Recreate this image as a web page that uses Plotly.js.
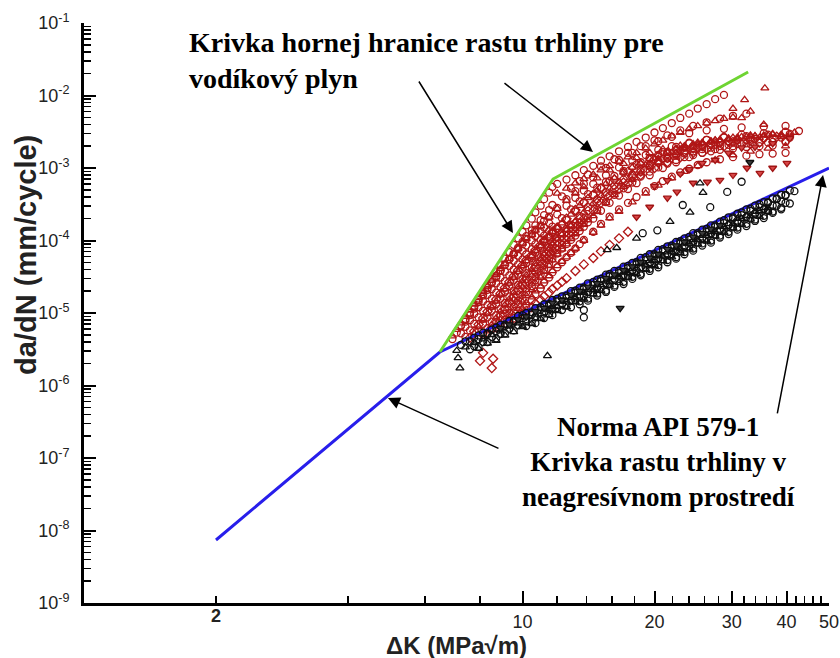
<!DOCTYPE html>
<html><head><meta charset="utf-8">
<script src="https://cdn.plot.ly/plotly-3.0.1.min.js"></script>
<style>html,body{margin:0;padding:0;background:#fff}#chart{width:840px;height:658px}</style>
</head><body><div id="chart"></div>
<script>
// ---------- reference curves ----------
const apiK = [2, 6.48, 50];
const apiR = [7.4e-9, 2.9e-6, 1.0e-3];
const h2K = [6.48, 11.74, 32.7];
const h2R = [2.9e-6, 7.05e-4, 0.0211];

// ---------- hydrogen tests (red) ----------
const ra_K = [6.92,7.08,7.24,7.41,7.59,7.76,7.94,8.13,8.32,8.51,8.71,8.91,9.12,9.33,9.55,9.77,10.0,10.2,10.5,10.7,11.0,11.2,11.5,11.7,12.0,12.6,13.2,13.8,14.5,15.1,15.8,16.6,17.4,18.2,19.1,20.0,20.9,21.9,22.9,24.0,25.1,26.3,27.5,28.8];
const ra_R = [4.37e-6,5.37e-6,6.76e-6,8.32e-6,1.02e-5,1.26e-5,1.58e-5,1.95e-5,2.40e-5,2.95e-5,3.72e-5,4.57e-5,5.62e-5,6.92e-5,8.71e-5,1.07e-4,1.32e-4,1.62e-4,2.00e-4,2.45e-4,3.02e-4,3.72e-4,4.57e-4,5.50e-4,6.03e-4,6.92e-4,7.94e-4,9.33e-4,1.07e-3,1.26e-3,1.45e-3,1.70e-3,1.95e-3,2.29e-3,2.63e-3,3.09e-3,3.55e-3,4.17e-3,4.90e-3,5.62e-3,6.61e-3,7.59e-3,8.91e-3,1.02e-2];
const rc_K = [7.24,7.41,7.59,7.76,7.94,8.13,8.32,8.51,8.71,8.91,9.12,9.33,9.55,9.77,10.0,10.2,10.5,10.7,11.0,11.2,11.5,12.0,12.6,13.2,13.8,14.5,15.5,16.6,17.8,19.1,20.4,21.9,24.0,26.3,28.8,32.4,36.3,40.7];
const rc_R = [5.25e-6,6.46e-6,7.94e-6,9.77e-6,1.20e-5,1.45e-5,1.78e-5,2.14e-5,2.57e-5,3.09e-5,3.72e-5,4.47e-5,5.25e-5,6.17e-5,7.24e-5,8.51e-5,1.00e-4,1.15e-4,1.32e-4,1.51e-4,1.74e-4,2.29e-4,3.02e-4,3.89e-4,4.90e-4,6.03e-4,7.94e-4,1.02e-3,1.26e-3,1.51e-3,1.78e-3,2.00e-3,2.24e-3,2.45e-3,2.63e-3,2.75e-3,2.88e-3,2.95e-3];
const re_K = [7.94,8.13,8.32,8.51,8.71,8.91,9.12,9.33,9.55,9.77,10.0,10.2,10.5,10.7,11.0,11.2,11.5,11.7,12.0,12.3,12.6,13.2,13.8,14.5,15.1,15.8,17.0,18.2,19.5,20.9,22.4,24.0,26.3,28.8,31.6,35.5,39.8,42.7];
const re_R = [5.75e-6,7.08e-6,8.71e-6,1.07e-5,1.32e-5,1.58e-5,1.95e-5,2.34e-5,2.82e-5,3.39e-5,4.07e-5,4.90e-5,5.75e-5,6.76e-5,7.94e-5,9.33e-5,1.10e-4,1.26e-4,1.45e-4,1.66e-4,1.91e-4,2.51e-4,3.31e-4,4.27e-4,5.37e-4,6.61e-4,8.71e-4,1.12e-3,1.38e-3,1.66e-3,1.95e-3,2.19e-3,2.45e-3,2.69e-3,2.88e-3,3.02e-3,3.16e-3,3.24e-3];
const rh_K = [9.12,9.33,9.55,9.77,10.0,10.2,10.5,10.7,11.0,11.2,11.5,11.7,12.0,12.3,12.6,12.9,13.2,13.5,13.8,14.1,14.5,15.1,15.8,16.6,17.4,18.2,19.5,20.9,22.4,24.0,25.7,27.5,30.2,33.1,36.3,39.8];
const rh_R = [7.08e-6,8.71e-6,1.07e-5,1.32e-5,1.58e-5,1.95e-5,2.34e-5,2.82e-5,3.39e-5,3.98e-5,4.79e-5,5.62e-5,6.61e-5,7.76e-5,8.91e-5,1.02e-4,1.17e-4,1.35e-4,1.55e-4,1.78e-4,2.00e-4,2.57e-4,3.31e-4,4.17e-4,5.13e-4,6.17e-4,7.94e-4,1.00e-3,1.20e-3,1.41e-3,1.62e-3,1.82e-3,2.00e-3,2.14e-3,2.24e-3,2.29e-3];
const rj_K = [7.24,7.41,7.59,7.76,7.94,8.13,8.32,8.51,8.71,8.91,9.12,9.33,9.55,9.77,10.0,10.2,10.5,10.7,11.0,11.2,11.5,12.0,12.6,13.2,13.8,14.5,15.5,16.6,17.8,19.1,20.4,21.9,24.0,26.3,28.8,31.6,35.5,39.8];
const rj_R = [6.61e-6,8.13e-6,1.00e-5,1.23e-5,1.51e-5,1.82e-5,2.24e-5,2.69e-5,3.24e-5,3.89e-5,4.68e-5,5.50e-5,6.46e-5,7.59e-5,8.91e-5,1.05e-4,1.23e-4,1.41e-4,1.62e-4,1.86e-4,2.14e-4,2.82e-4,3.72e-4,4.79e-4,6.03e-4,7.41e-4,1.00e-3,1.29e-3,1.62e-3,2.00e-3,2.34e-3,2.69e-3,3.02e-3,3.31e-3,3.47e-3,3.63e-3,3.72e-3,3.80e-3];
const rn_K = [7.41,7.59,7.76,7.94,8.13,8.32,8.51,8.71,8.91,9.12,9.33,9.55,9.77,10.0,10.2,10.5,10.7,11.0,11.2,11.5,11.7,12.3,12.9,13.5,14.1,15.1,16.2,17.4,18.6,20.0,21.4,22.9,24.5,26.3,28.2,30.2,32.4];
const rn_R = [7.59e-6,9.33e-6,1.15e-5,1.41e-5,1.74e-5,2.09e-5,2.57e-5,3.09e-5,3.80e-5,4.57e-5,5.50e-5,6.61e-5,7.94e-5,9.55e-5,1.15e-4,1.38e-4,1.62e-4,1.91e-4,2.24e-4,2.63e-4,3.09e-4,4.07e-4,5.25e-4,6.61e-4,8.13e-4,1.05e-3,1.32e-3,1.62e-3,2.00e-3,2.40e-3,2.82e-3,3.31e-3,3.80e-3,4.27e-3,4.79e-3,5.25e-3,5.62e-3];
const rp_K = [7.41,7.59,7.76,7.94,8.13,8.32,8.51,8.71,8.91,9.12,9.33,9.55,9.77,10.0,10.2,10.5,10.7,11.0,11.2,11.5,11.7,12.3,12.9,13.5,14.1,14.8,15.5,16.2,17.0,17.8,18.6,19.5,20.4,21.4,22.4,23.4,24.5,25.7,26.9,28.2,29.5,30.9,32.4,33.9,35.5,37.2,38.9,40.7];
const rp_R = [4.68e-6,5.75e-6,7.08e-6,8.71e-6,1.07e-5,1.29e-5,1.58e-5,1.91e-5,2.29e-5,2.75e-5,3.31e-5,3.98e-5,4.68e-5,5.50e-5,6.46e-5,7.59e-5,8.91e-5,1.02e-4,1.17e-4,1.35e-4,1.55e-4,2.04e-4,2.69e-4,3.47e-4,4.37e-4,5.37e-4,6.46e-4,7.76e-4,9.12e-4,1.05e-3,1.20e-3,1.35e-3,1.51e-3,1.66e-3,1.78e-3,1.91e-3,2.00e-3,2.09e-3,2.19e-3,2.24e-3,2.34e-3,2.40e-3,2.45e-3,2.51e-3,2.57e-3,2.57e-3,2.63e-3,2.63e-3];
const rr_K = [8.13,8.32,8.51,8.71,8.91,9.12,9.33,9.55,9.77,10.0,10.2,10.5,10.7,11.0,11.2,11.5,11.7,12.0,12.3,12.6,12.9,13.5,14.1,14.8,15.5,16.2,17.0,17.8,18.6,19.5,20.4,21.4,22.4,23.4,24.5,25.7,26.9,28.2,29.5,30.9,32.4,34.7,37.2,39.8];
const rr_R = [5.01e-6,6.17e-6,7.59e-6,9.33e-6,1.15e-5,1.38e-5,1.70e-5,2.04e-5,2.45e-5,2.95e-5,3.55e-5,4.27e-5,5.01e-5,5.89e-5,6.92e-5,8.13e-5,9.55e-5,1.10e-4,1.26e-4,1.45e-4,1.66e-4,2.19e-4,2.88e-4,3.72e-4,4.68e-4,5.75e-4,6.92e-4,8.13e-4,9.55e-4,1.10e-3,1.23e-3,1.35e-3,1.48e-3,1.58e-3,1.70e-3,1.82e-3,1.91e-3,2.00e-3,2.09e-3,2.14e-3,2.19e-3,2.24e-3,2.29e-3,2.34e-3];
const rt_K = [8.91,9.12,9.33,9.55,9.77,10.0,10.2,10.5,10.7,11.0,11.2,11.5,11.7,12.0,12.3,12.6,12.9,13.2,13.5,13.8,14.1,14.8,15.5,16.2,17.0,17.8,18.6,19.5,20.4,21.4,22.4,23.4,24.5,25.7,26.9,28.2,30.2,32.4,34.7,37.2];
const rt_R = [6.61e-6,8.13e-6,1.00e-5,1.23e-5,1.48e-5,1.78e-5,2.19e-5,2.63e-5,3.16e-5,3.80e-5,4.57e-5,5.37e-5,6.31e-5,7.41e-5,8.71e-5,1.02e-4,1.17e-4,1.35e-4,1.55e-4,1.78e-4,2.04e-4,2.63e-4,3.39e-4,4.27e-4,5.25e-4,6.31e-4,7.59e-4,8.91e-4,1.02e-3,1.15e-3,1.29e-3,1.41e-3,1.51e-3,1.62e-3,1.70e-3,1.78e-3,1.86e-3,1.95e-3,2.00e-3,2.04e-3];
const rv_K = [9.77,10.0,10.2,10.5,10.7,11.0,11.2,11.5,11.7,12.0,12.3,12.6,12.9,13.2,13.5,13.8,14.5,15.1,15.8,16.6,17.4,18.2,19.1,20.0,20.9,21.9,22.9,24.0,25.1,26.3,28.2,30.2,32.4,34.7,37.2,39.8];
const rv_R = [8.71e-6,1.05e-5,1.26e-5,1.51e-5,1.82e-5,2.19e-5,2.63e-5,3.09e-5,3.63e-5,4.27e-5,5.01e-5,5.89e-5,6.76e-5,7.76e-5,8.91e-5,1.02e-4,1.32e-4,1.70e-4,2.14e-4,2.69e-4,3.31e-4,3.98e-4,4.79e-4,5.62e-4,6.61e-4,7.59e-4,8.71e-4,9.77e-4,1.10e-3,1.20e-3,1.32e-3,1.41e-3,1.48e-3,1.55e-3,1.58e-3,1.62e-3];

const rb_K = [6.92,7.08,7.24,7.41,7.59,7.76,7.94,8.13,8.32,8.51,8.71,8.91,9.12,9.33,9.55,9.77,10.0,10.2,10.5,10.7,11.0,11.5,12.0,12.6,13.2,13.8,14.8,15.8,17.0,18.2,19.5,20.9,22.9,25.1,27.5,30.9,34.7,38.9];
const rb_R = [4.79e-6,5.89e-6,7.24e-6,8.91e-6,1.10e-5,1.32e-5,1.62e-5,1.95e-5,2.34e-5,2.82e-5,3.39e-5,4.07e-5,4.79e-5,5.62e-5,6.61e-5,7.76e-5,9.12e-5,1.05e-4,1.20e-4,1.38e-4,1.58e-4,2.09e-4,2.75e-4,3.55e-4,4.47e-4,5.50e-4,7.24e-4,9.33e-4,1.15e-3,1.38e-3,1.62e-3,1.82e-3,2.04e-3,2.24e-3,2.40e-3,2.51e-3,2.63e-3,2.69e-3];
const rf_K = [8.32,8.51,8.71,8.91,9.12,9.33,9.55,9.77,10.0,10.2,10.5,10.7,11.0,11.2,11.5,11.7,12.0,12.3,12.6,12.9,13.2,13.8,14.5,15.1,15.8,16.6,17.8,19.1,20.4,21.9,23.4,25.1,27.5,30.2,33.1,37.2,41.7];
const rf_R = [5.62e-6,6.92e-6,8.51e-6,1.05e-5,1.29e-5,1.55e-5,1.91e-5,2.29e-5,2.75e-5,3.31e-5,3.98e-5,4.79e-5,5.62e-5,6.61e-5,7.76e-5,9.12e-5,1.07e-4,1.23e-4,1.41e-4,1.62e-4,1.86e-4,2.45e-4,3.24e-4,4.17e-4,5.25e-4,6.46e-4,8.51e-4,1.10e-3,1.35e-3,1.62e-3,1.91e-3,2.14e-3,2.40e-3,2.63e-3,2.82e-3,2.95e-3,3.09e-3];
const ri_K = [9.55,9.77,10.0,10.2,10.5,10.7,11.0,11.2,11.5,11.7,12.0,12.3,12.6,12.9,13.2,13.8,14.5,15.1,15.8,16.6,17.8,19.1,20.4,21.9,23.4,25.1,27.5,30.2,33.1,36.3,39.8];
const ri_R = [7.94e-6,9.55e-6,1.15e-5,1.38e-5,1.66e-5,2.00e-5,2.34e-5,2.75e-5,3.24e-5,3.80e-5,4.47e-5,5.13e-5,5.89e-5,6.76e-5,7.76e-5,1.00e-4,1.29e-4,1.62e-4,2.04e-4,2.51e-4,3.39e-4,4.47e-4,5.75e-4,7.24e-4,8.91e-4,1.07e-3,1.29e-3,1.51e-3,1.70e-3,1.86e-3,2.00e-3];
const rq_K = [7.76,7.94,8.13,8.32,8.51,8.71,8.91,9.12,9.33,9.55,9.77,10.0,10.2,10.5,10.7,11.0,11.2,11.5,11.7,12.0,12.3,12.9,13.5,14.1,14.8,15.5,16.2,17.0,17.8,18.6,19.5,20.4,21.4,22.4,23.4,24.5,25.7,26.9,28.2,29.5,30.9,32.4,33.9,35.5,37.2,38.9,40.7];
const rq_R = [5.25e-6,6.46e-6,7.94e-6,9.77e-6,1.20e-5,1.45e-5,1.78e-5,2.14e-5,2.57e-5,3.09e-5,3.72e-5,4.47e-5,5.25e-5,6.17e-5,7.24e-5,8.51e-5,1.00e-4,1.15e-4,1.32e-4,1.51e-4,1.74e-4,2.29e-4,3.02e-4,3.89e-4,4.90e-4,6.03e-4,7.24e-4,8.71e-4,1.02e-3,1.17e-3,1.35e-3,1.51e-3,1.70e-3,1.86e-3,2.00e-3,2.14e-3,2.24e-3,2.34e-3,2.45e-3,2.51e-3,2.63e-3,2.69e-3,2.75e-3,2.82e-3,2.88e-3,2.88e-3,2.95e-3];
const ru_K = [9.33,9.55,9.77,10.0,10.2,10.5,10.7,11.0,11.2,11.5,11.7,12.0,12.3,12.6,12.9,13.2,13.5,13.8,14.1,14.5,14.8,15.5,16.2,17.0,17.8,18.6,19.5,20.4,21.4,22.4,23.4,24.5,25.7,26.9,28.2,29.5,31.6,33.9,36.3,38.9];
const ru_R = [7.59e-6,9.33e-6,1.15e-5,1.41e-5,1.74e-5,2.09e-5,2.57e-5,3.09e-5,3.72e-5,4.47e-5,5.37e-5,6.46e-5,7.59e-5,8.91e-5,1.05e-4,1.23e-4,1.45e-4,1.66e-4,1.91e-4,2.19e-4,2.51e-4,3.31e-4,4.27e-4,5.50e-4,6.92e-4,8.51e-4,1.02e-3,1.20e-3,1.41e-3,1.62e-3,1.82e-3,2.00e-3,2.19e-3,2.34e-3,2.45e-3,2.57e-3,2.69e-3,2.75e-3,2.82e-3,2.82e-3];
const rw_K = [12.0,12.6,13.2,13.8,14.5,15.1,15.8,16.6,17.4,18.2,19.1,20.0,20.9,21.9,22.9,24.0,25.1,26.3,27.5,28.8,30.2];
const rw_R = [4.47e-4,5.25e-4,6.17e-4,7.08e-4,8.13e-4,9.33e-4,1.07e-3,1.23e-3,1.41e-3,1.62e-3,1.86e-3,2.14e-3,2.40e-3,2.75e-3,3.09e-3,3.47e-3,3.80e-3,4.17e-3,4.47e-3,4.79e-3,5.01e-3];
const rTriTop_K = [35.7,32.1,31.6,30.2,35.5,33.1];
const rTriTop_R = [1.26e-2,8.71e-3,4.90e-3,6.61e-3,3.98e-3,6.03e-3];

const rd_K = [7.59,7.76,7.94,8.13,8.32,8.51,8.71,8.91,9.12,9.33,9.55,9.77,10.0,10.2,10.5,10.7,11.0,11.2,11.5,11.7,12.0,12.6,13.2,13.8,14.5,15.1,16.2,17.4,18.6,20.0,21.4,22.9,25.1,27.5,30.2,33.1];
const rd_R = [4.57e-6,5.62e-6,6.92e-6,8.51e-6,1.05e-5,1.26e-5,1.55e-5,1.86e-5,2.24e-5,2.69e-5,3.24e-5,3.89e-5,4.57e-5,5.37e-5,6.31e-5,7.41e-5,8.71e-5,1.00e-4,1.15e-4,1.32e-4,1.51e-4,2.00e-4,2.63e-4,3.39e-4,4.27e-4,5.25e-4,6.92e-4,8.91e-4,1.10e-3,1.32e-3,1.55e-3,1.74e-3,1.95e-3,2.14e-3,2.29e-3,2.40e-3];
const rg_K = [8.71,8.91,9.12,9.33,9.55,9.77,10.0,10.2,10.5,10.7,11.0,11.2,11.5,11.7,12.0,12.3,12.6,12.9,13.2,13.5,13.8,14.5,15.1,15.8,16.6,17.4,18.6,20.0,21.4,22.9,24.5,26.3,28.8,31.6,34.7];
const rg_R = [6.31e-6,7.76e-6,9.55e-6,1.17e-5,1.45e-5,1.74e-5,2.14e-5,2.57e-5,3.09e-5,3.72e-5,4.47e-5,5.25e-5,6.17e-5,7.24e-5,8.51e-5,1.00e-4,1.15e-4,1.32e-4,1.51e-4,1.74e-4,2.00e-4,2.57e-4,3.31e-4,4.17e-4,5.13e-4,6.17e-4,7.94e-4,1.00e-3,1.20e-3,1.41e-3,1.62e-3,1.82e-3,2.00e-3,2.14e-3,2.24e-3];
const rs_K = [8.51,8.71,8.91,9.12,9.33,9.55,9.77,10.0,10.2,10.5,10.7,11.0,11.2,11.5,11.7,12.0,12.3,12.6,12.9,13.2,13.5,14.1,14.8,15.5,16.2,17.0,17.8,18.6,19.5,20.4,21.4,22.4,23.4,24.5,25.7,26.9,28.2,29.5,30.9,33.1,35.5,38.0];
const rs_R = [6.03e-6,7.41e-6,9.12e-6,1.12e-5,1.38e-5,1.66e-5,2.04e-5,2.45e-5,2.95e-5,3.55e-5,4.27e-5,5.13e-5,6.03e-5,7.08e-5,8.32e-5,9.77e-5,1.15e-4,1.32e-4,1.51e-4,1.74e-4,2.00e-4,2.57e-4,3.31e-4,4.17e-4,5.13e-4,6.31e-4,7.59e-4,8.91e-4,1.05e-3,1.20e-3,1.38e-3,1.55e-3,1.70e-3,1.86e-3,2.00e-3,2.14e-3,2.24e-3,2.34e-3,2.45e-3,2.57e-3,2.63e-3,2.69e-3];
const rk_K = [10.0,10.2,10.5,10.7,11.0,11.2,11.5,11.7,12.0,12.3,12.6,13.2,13.8,14.5,15.1,15.8,16.6,17.4];
const rk_R = [9.55e-6,1.07e-5,1.20e-5,1.35e-5,1.51e-5,1.70e-5,1.91e-5,2.14e-5,2.40e-5,2.69e-5,3.02e-5,3.80e-5,4.68e-5,5.75e-5,7.08e-5,8.71e-5,1.07e-4,1.32e-4];
const rDiamLow_K = [8.0,8.51,8.57,8.13];
const rDiamLow_R = [2.19e-6,1.74e-6,2.34e-6,2.82e-6];

const rl_K = [18.2,19.5,21.4,22.5,24.5,26.4,28.2,30.2,32.5,34.8,37.2,40.1];
const rl_R = [2.11e-4,2.90e-4,3.86e-4,4.67e-4,6.21e-4,6.41e-4,6.82e-4,8.0e-4,1.0e-3,8.5e-4,1.0e-3,1.17e-3];
const rm_K = [20.0,21.4,22.9,24.0,25.7,27.5,29.5,31.6,33.9,37.2,40.7];
const rm_R = [5.62e-4,6.76e-4,8.32e-4,9.55e-4,1.17e-3,1.29e-3,1.62e-3,1.91e-3,1.95e-3,2.19e-3,2.57e-3];

// ---------- non-aggressive environment tests (black) ----------
const b1_K = [7.24,7.59,7.94,8.32,8.71,9.12,9.55,10.0,10.5,11.0,11.5,12.0,12.6,13.2,13.8,14.5,15.1,15.8,16.6,17.4,18.2,19.1,20.0,20.9,21.9,22.9,24.0,25.1,26.3,27.5,28.8,30.2,31.6,33.1,34.7,36.3,38.0,39.8,41.7];
const b1_R = [3.63e-6,4.07e-6,4.90e-6,5.25e-6,6.31e-6,6.92e-6,7.76e-6,9.33e-6,1.02e-5,1.20e-5,1.32e-5,1.58e-5,1.74e-5,2.04e-5,2.24e-5,2.69e-5,2.95e-5,3.47e-5,3.80e-5,4.47e-5,5.01e-5,5.89e-5,6.46e-5,7.59e-5,8.51e-5,9.77e-5,1.12e-4,1.26e-4,1.45e-4,1.62e-4,1.91e-4,2.09e-4,2.45e-4,2.75e-4,3.16e-4,3.39e-4,3.80e-4,4.27e-4,4.79e-4];
const b2_K = [7.08,7.41,7.76,8.13,8.51,8.91,9.33,9.77,10.2,10.7,11.2,11.7,12.3,12.9,13.5,14.1,14.8,15.5,16.2,17.0,17.8,18.6,19.5,20.4,21.4,22.4,23.4,24.5,25.7,26.9,28.2,29.5,30.9,32.4,33.9,35.5];
const b2_R = [3.02e-6,3.39e-6,3.89e-6,4.37e-6,5.01e-6,5.62e-6,6.61e-6,7.24e-6,8.71e-6,9.55e-6,1.12e-5,1.23e-5,1.45e-5,1.62e-5,1.91e-5,2.09e-5,2.45e-5,2.75e-5,3.16e-5,3.63e-5,4.07e-5,4.79e-5,5.25e-5,6.17e-5,6.92e-5,7.94e-5,9.12e-5,1.02e-4,1.17e-4,1.32e-4,1.55e-4,1.70e-4,2.00e-4,2.19e-4,2.51e-4,2.82e-4];
const b3_K = [7.59,7.94,8.32,8.71,9.12,9.55,10.0,10.5,11.0,11.5,12.0,12.6,13.2,13.8,14.5,15.1,15.8,16.6,17.4,18.2,19.1,20.0,20.9,21.9,22.9,24.0,25.1,26.3,27.5,28.8,30.2,31.6,33.1,34.7,36.3,38.0,39.8];
const b3_R = [3.16e-6,3.39e-6,3.98e-6,4.47e-6,5.25e-6,5.75e-6,6.92e-6,7.59e-6,8.91e-6,9.77e-6,1.17e-5,1.29e-5,1.51e-5,1.70e-5,1.91e-5,2.24e-5,2.51e-5,2.95e-5,3.24e-5,3.80e-5,4.27e-5,4.90e-5,5.50e-5,6.46e-5,7.08e-5,8.32e-5,9.33e-5,1.07e-4,1.20e-4,1.41e-4,1.55e-4,1.82e-4,2.00e-4,2.34e-4,2.57e-4,3.02e-4,3.31e-4];
const b4_K = [8.91,9.33,9.77,10.2,10.7,11.2,11.7,12.3,12.9,13.5,14.1,14.8,15.5,16.2,17.0,17.8,18.6,19.5,20.4,21.4,22.4,23.4,24.5,25.7,26.9,28.2];
const b4_R = [6.17e-6,6.92e-6,8.13e-6,8.91e-6,1.05e-5,1.17e-5,1.38e-5,1.51e-5,1.78e-5,2.00e-5,2.29e-5,2.57e-5,3.02e-5,3.39e-5,3.89e-5,4.37e-5,5.01e-5,5.75e-5,6.46e-5,7.59e-5,8.51e-5,9.55e-5,1.12e-4,1.26e-4,1.45e-4,1.62e-4];
const b5_K = [10.2,10.7,11.2,11.7,12.3,12.9,13.5,14.1,14.8,15.5,16.2,17.0,17.8,18.6,19.5,20.4,21.4,22.4,23.4,24.5,25.7,26.9,28.2,29.5,30.9,32.4,33.9,35.5,37.2,38.9,40.7];
const b5_R = [6.61e-6,7.24e-6,8.51e-6,9.33e-6,1.10e-5,1.20e-5,1.45e-5,1.58e-5,1.86e-5,2.04e-5,2.40e-5,2.69e-5,3.16e-5,3.47e-5,4.07e-5,4.57e-5,5.37e-5,5.89e-5,6.92e-5,7.76e-5,9.12e-5,1.00e-4,1.17e-4,1.32e-4,1.51e-4,1.70e-4,1.95e-4,2.19e-4,2.51e-4,2.82e-4,3.24e-4];
const b6_K = [11.5,12.0,12.6,13.2,13.8,14.5,15.1,15.8,16.6,17.4,18.2,19.1,20.0,20.9,21.9,22.9,24.0,25.1,26.3,27.5,28.8,30.2,31.6,33.1,34.7,36.3];
const b6_R = [1.12e-5,1.23e-5,1.45e-5,1.62e-5,1.91e-5,2.09e-5,2.45e-5,2.69e-5,3.16e-5,3.55e-5,4.17e-5,4.57e-5,5.37e-5,6.03e-5,7.08e-5,7.76e-5,9.12e-5,1.02e-4,1.17e-4,1.32e-4,1.55e-4,1.70e-4,2.00e-4,2.19e-4,2.57e-4,2.82e-4];
const b7_K = [7.41,7.76,8.13,8.51,8.91,9.33,9.77,10.2,10.7,11.2,11.7,12.3,12.9,13.5,14.1,14.8,15.5,16.2,17.0,17.8,18.6,19.5,20.4,21.4,22.4,23.4,24.5,25.7,26.9,28.2,29.5,30.9,32.4,33.9,35.5,37.2,38.9,40.7];
const b7_R = [4.07e-6,4.57e-6,5.37e-6,5.89e-6,6.92e-6,7.76e-6,9.12e-6,1.00e-5,1.17e-5,1.32e-5,1.51e-5,1.70e-5,2.00e-5,2.24e-5,2.57e-5,2.88e-5,3.39e-5,3.80e-5,4.37e-5,4.90e-5,5.75e-5,6.46e-5,7.41e-5,8.32e-5,9.55e-5,1.07e-4,1.26e-4,1.41e-4,1.62e-4,1.82e-4,2.09e-4,2.34e-4,2.69e-4,3.02e-4,3.39e-4,3.80e-4,4.27e-4,4.90e-4];
const b8_K = [7.76,8.13,8.51,8.91,9.33,9.77,10.2,10.7,11.2,11.7,12.3,12.9,13.5,14.1,14.8,15.5,16.2,17.0,17.8,18.6,19.5,20.4,21.4,22.4,23.4,24.5,25.7,26.9,28.2,29.5,30.9,32.4,33.9,35.5,37.2,38.9];
const b8_R = [3.47e-6,3.98e-6,4.68e-6,5.13e-6,6.03e-6,6.76e-6,7.76e-6,8.71e-6,1.02e-5,1.12e-5,1.32e-5,1.48e-5,1.70e-5,1.95e-5,2.19e-5,2.57e-5,2.88e-5,3.24e-5,3.80e-5,4.27e-5,4.90e-5,5.50e-5,6.46e-5,7.08e-5,8.32e-5,9.33e-5,1.07e-4,1.23e-4,1.38e-4,1.62e-4,1.78e-4,2.09e-4,2.34e-4,2.69e-4,3.02e-4,3.47e-4];
const b9_K = [7.94,8.32,8.71,9.12,9.55,10.0,10.5,11.0,11.5,12.0,12.6,13.2,13.8,14.5,15.1,15.8,16.6,17.4,18.2,19.1,20.0,20.9,21.9,22.9,24.0,25.1,26.3,27.5,28.8,30.2,31.6,33.1,34.7,36.3];
const b9_R = [3.24e-6,3.80e-6,4.17e-6,4.90e-6,5.50e-6,6.46e-6,7.08e-6,8.32e-6,9.33e-6,1.07e-5,1.20e-5,1.41e-5,1.55e-5,1.82e-5,2.04e-5,2.40e-5,2.63e-5,3.09e-5,3.47e-5,3.98e-5,4.47e-5,5.25e-5,5.89e-5,6.76e-5,7.59e-5,8.91e-5,9.77e-5,1.15e-4,1.29e-4,1.48e-4,1.66e-4,1.95e-4,2.14e-4,2.51e-4];
const b10_K = [13.5,14.1,14.8,15.5,16.2,17.0,17.8,18.6,19.5,20.4,21.4,22.4,23.4,24.5,25.7,26.9,28.2,29.5,30.9,32.4,33.9,35.5,37.2,38.9];
const b10_R = [1.32e-5,1.48e-5,1.74e-5,1.95e-5,2.29e-5,2.51e-5,2.95e-5,3.31e-5,3.80e-5,4.27e-5,5.01e-5,5.62e-5,6.46e-5,7.24e-5,8.51e-5,9.33e-5,1.10e-4,1.23e-4,1.41e-4,1.58e-4,1.86e-4,2.04e-4,2.40e-4,2.69e-4];
const b11_K = [7.94,8.32,8.71,9.12,9.55,10.0,10.5,11.0,11.5,12.0,12.6,13.2,13.8,14.5,15.1,15.8,16.6,17.4,18.2,19.1,20.0,20.9,21.9,22.9,24.0,25.1,26.3,27.5,28.8,30.2,31.6,33.1,34.7,36.3,38.0,39.8];
const b11_R = [4.37e-6,5.13e-6,5.62e-6,6.61e-6,7.41e-6,8.51e-6,9.55e-6,1.12e-5,1.26e-5,1.45e-5,1.62e-5,1.91e-5,2.14e-5,2.45e-5,2.75e-5,3.24e-5,3.55e-5,4.17e-5,4.68e-5,5.37e-5,6.03e-5,7.08e-5,7.94e-5,9.12e-5,1.02e-4,1.20e-4,1.32e-4,1.55e-4,1.74e-4,2.00e-4,2.24e-4,2.57e-4,2.88e-4,3.31e-4,3.72e-4,4.17e-4];
const bCirc_K = [23.2,26.8,29.3,31.6,13.8,13.8,18.8,20.3];
const bCirc_R = [3.09e-4,2.88e-4,4.68e-4,6.46e-4,1.10e-5,8.7e-6,1.26e-4,1.38e-4];
const bTri_K = [24.1,25.8,25.4,18.2,16.4,15.6,21.7,11.4,7.20,7.13];
const bTri_R = [2.45e-4,4.57e-4,6.17e-4,1.07e-4,7.94e-5,7.41e-5,1.82e-4,2.57e-6,1.74e-6,2.40e-6];
const bTriDn_K = [33.0,16.7];
const bTriDn_R = [1.20e-3,1.17e-5];

// ---------- axis labels ----------
const xTickVals = [10,20,30,40,50];
const xTickText = ['10','20','30','40','50'];
const xMinorVals = [2,4,6,8,12,14,16,18,22,24,26,28,32,34,36,38,42,44,46,48];
const yTickVals = [1e-9,1e-8,1e-7,1e-6,1e-5,1e-4,1e-3,1e-2,1e-1];
const yTickText = ['10<sup>-9</sup>','10<sup>-8</sup>','10<sup>-7</sup>','10<sup>-6</sup>','10<sup>-5</sup>','10<sup>-4</sup>','10<sup>-3</sup>','10<sup>-2</sup>','10<sup>-1</sup>'];

const cat = (...a) => [].concat(...a);
const yMinorVals = [];
for (let e = -9; e < -1; e++) for (let m = 2; m <= 9; m++) yMinorVals.push(m * Math.pow(10, e));

const RED = 'rgb(176,22,22)';
const BLK = 'rgb(15,15,15)';
function pts(x, y, symbol, color, fill) {
  return {type:'scatter', mode:'markers', x:x, y:y, hoverinfo:'skip',
    marker:{symbol:symbol, size:7, color: fill || color, line:{color:color, width:1.3}}};
}
const traces = [
  pts(cat(ra_K, rc_K, re_K, rh_K, rj_K, rn_K, rp_K, rr_K, rt_K, rv_K), cat(ra_R, rc_R, re_R, rh_R, rj_R, rn_R, rp_R, rr_R, rt_R, rv_R), 'circle-open', RED),
  pts(cat(rb_K, rf_K, ri_K, rq_K, ru_K, rw_K, rTriTop_K), cat(rb_R, rf_R, ri_R, rq_R, ru_R, rw_R, rTriTop_R), 'triangle-up-open', RED),
  pts(cat(rd_K, rg_K, rs_K, rk_K, rDiamLow_K), cat(rd_R, rg_R, rs_R, rk_R, rDiamLow_R), 'diamond-open', RED),
  pts(cat(rl_K, rm_K), cat(rl_R, rm_R), 'triangle-down', 'rgb(160,20,20)', 'rgb(215,70,70)'),
  {type:'scatter', mode:'lines', x:apiK, y:apiR, hoverinfo:'skip', line:{color:'rgb(40,30,235)', width:3}},
  pts(cat(b1_K, b3_K, b5_K, b7_K, b8_K, b10_K, b11_K, bCirc_K), cat(b1_R, b3_R, b5_R, b7_R, b8_R, b10_R, b11_R, bCirc_R), 'circle-open', BLK),
  pts(cat(b2_K, b6_K, b9_K, bTri_K), cat(b2_R, b6_R, b9_R, bTri_R), 'triangle-up-open', BLK),
  pts(cat(b4_K, bTriDn_K), cat(b4_R, bTriDn_R), 'triangle-down', BLK, 'rgb(60,60,60)'),
  {type:'scatter', mode:'lines', x:h2K, y:h2R, xaxis:'x2', yaxis:'y', hoverinfo:'skip', line:{color:'rgb(110,212,50)', width:3}}
];

const SERIF = 'Liberation Serif, Times New Roman, serif';
const SANS = 'Liberation Sans, Arial, sans-serif';
function arrow(hx, hy, ax, ay) {
  return {xref:'paper', yref:'paper', x:hx, y:hy, ax:ax, ay:ay, text:'', showarrow:true,
    arrowhead:2, arrowsize:1.6, arrowwidth:1.5, arrowcolor:'#000', standoff:0, startstandoff:0};
}
const layout = {
  width:840, height:658,
  margin:{l:84, r:11, t:23, b:55},
  paper_bgcolor:'#fff', plot_bgcolor:'#fff', showlegend:false,
  font:{family:SANS, color:'#222'},
  xaxis:{type:'log', range:[0, Math.log10(50)], showline:true, linecolor:'#000', linewidth:3,
    showgrid:false, zeroline:false, ticks:'inside', ticklen:12, tickwidth:2, tickcolor:'#000',
    tickmode:'array', tickvals:xTickVals, ticktext:xTickText, tickfont:{size:18, color:'#222', family:SANS},
    minor:{ticks:'inside', ticklen:7, tickwidth:1.5, tickcolor:'#000', tickmode:'array', tickvals:xMinorVals, showgrid:false}},
  xaxis2:{type:'log', range:[0, Math.log10(50)], overlaying:'x', anchor:'y', side:'bottom',
    showline:false, showgrid:false, zeroline:false, ticks:'', tickmode:'array', tickvals:[2], ticktext:['<b>2</b>'],
    tickfont:{size:18, color:'#222', family:SANS}},
  yaxis:{type:'log', range:[-9,-1], showline:true, linecolor:'#000', linewidth:3,
    showgrid:false, zeroline:false, ticks:'inside', ticklen:12, tickwidth:2, tickcolor:'#000',
    tickmode:'array', tickvals:yTickVals, ticktext:yTickText, tickfont:{size:18, color:'#222', family:SANS},
    ticklabelstandoff:8,
    minor:{ticks:'inside', ticklen:7, tickwidth:1.5, tickcolor:'#000', tickmode:'array', tickvals:yMinorVals, showgrid:false}},
  annotations:[
    {xref:'paper', yref:'paper', x:0.5, y:-0.073, xanchor:'center', yanchor:'middle', showarrow:false,
      text:'<b>ΔK (MPa√m)</b>', font:{family:SANS, size:24, color:'#222'}},
    {xref:'paper', yref:'paper', x:-0.078, y:0.60, xanchor:'center', yanchor:'middle', showarrow:false, textangle:-90,
      text:'<b>da/dN (mm/cycle)</b>', font:{family:SANS, size:29, color:'#222'}},
    {xref:'paper', yref:'paper', x:0.1383, y:0.997, xanchor:'left', yanchor:'top', align:'left', showarrow:false,
      text:'<b>Krivka hornej hranice rastu trhliny pre<br>vodíkový plyn</b>', font:{family:SERIF, size:28, color:'#000'}},
    {xref:'paper', yref:'paper', x:0.7705, y:0.333, xanchor:'center', yanchor:'top', align:'center', showarrow:false,
      text:'<b>Norma API 579-1<br>Krivka rastu trhliny v<br>neagresívnom prostredí</b>', font:{family:SERIF, size:27, color:'#000'}},
    arrow(0.5758, 0.6379, -95, -153),
    arrow(0.6832, 0.7776, -90, -70),
    arrow(0.408, 0.3534, 112, 51),
    arrow(0.992, 0.738, -46, 240)
  ]
};
Plotly.newPlot('chart', traces, layout, {staticPlot:true, displayModeBar:false});
</script></body></html>
